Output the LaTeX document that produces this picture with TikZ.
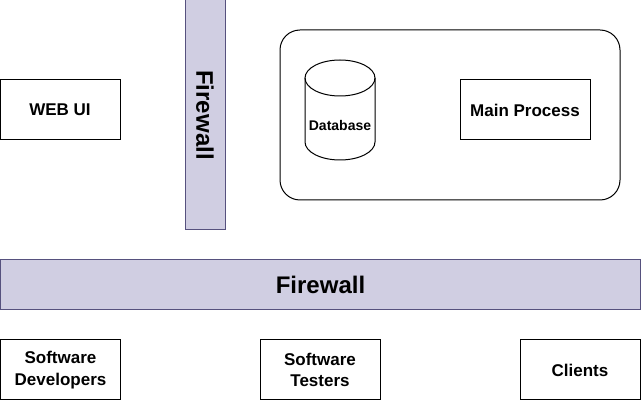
\documentclass[tikz,border=0pt]{standalone}
\usepackage{fontspec}
\setmainfont{Liberation Sans}
\definecolor{wallfill}{HTML}{D0CEE2}
\definecolor{wallline}{HTML}{56517E}
\begin{document}
\begin{tikzpicture}[x=1pt,y=-1pt,
  box/.style={draw=black, line width=1pt, fill=white, minimum width=120pt, minimum height=60pt,
    inner sep=0pt, align=center, font=\bfseries\fontsize{17}{21.5}\selectfont},
  wall/.style={draw=wallline, fill=wallfill, line width=1pt, inner sep=0pt,
    font=\bfseries\fontsize{24}{28}\selectfont},
  outline/.style={draw=black, line width=1pt}]
\useasboundingbox (0,0) rectangle (641,406);
% left web UI
\node[box] (webui) at (60,110) {WEB UI};
% vertical firewall
\node[wall, rotate=-90, minimum width=230pt, minimum height=40pt] (fwv) at (205,115) {Firewall};
% server container
\node[outline, rounded corners=20pt, minimum width=340pt, minimum height=170pt] (server) at (450,115) {};
% database cylinder
\draw[outline, fill=white] (305,78) -- (305,142) arc[start angle=180, end angle=0, x radius=35, y radius=18] -- (375,78);
\draw[outline] (340,78) ellipse [x radius=35, y radius=18];
\node[font=\bfseries\fontsize{14}{17}\selectfont, inner sep=0pt] (db) at (340,125) {Database};
% main process
\node[box, minimum width=130pt] (main) at (525,110) {Main Process};
% horizontal firewall
\node[wall, minimum width=640pt, minimum height=50pt] (fwh) at (320.5,285) {Firewall};
% bottom boxes
\node[box] (dev) at (60.5,370) {Software\\Developers};
\node[box] (test) at (320,370) {Software\\Testers};
\node[box] (cli) at (580,370) {Clients};
\end{tikzpicture}
\end{document}
